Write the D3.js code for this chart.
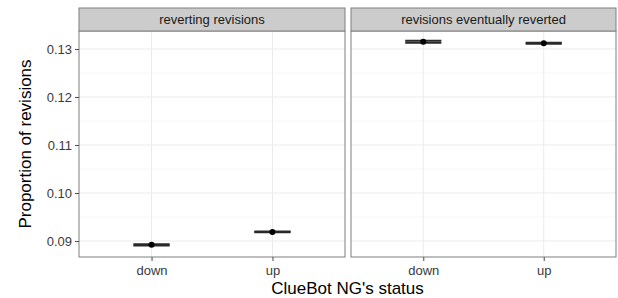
<!DOCTYPE html>
<html lang="en">
<head>
<meta charset="UTF-8">
<title>ClueBot NG status</title>
<script src="https://d3js.org/d3.v7.min.js"></script>
<style>
    body { margin: 0; background: #fff; }
    svg { display: block; font-family: 'Liberation Sans', Arial, sans-serif; }
    .tick text { fill: #3a3a3a; font-size: 13px; }
    .tick line { stroke: #4d4d4d; }
    .domain { display: none; }
</style>
</head>
<body>
<svg id="chart" width="618" height="298"></svg>
<script>
    // data
    var panels = ["reverting revisions", "revisions eventually reverted"];
    var statuses = ["down", "up"];
    var means = [[0.0892, 0.0919], [0.13152, 0.13118]];
    var lows = [[0.08907, 0.09183], [0.1313, 0.13107]];
    var highs = [[0.08933, 0.09196], [0.13172, 0.1313]];
    var yTicks = [0.09, 0.10, 0.11, 0.12, 0.13];
    var yMinor = [0.095, 0.105, 0.115, 0.125];

    var svg = d3.select("#chart");
    var plotTop = 31, plotBottom = 257, stripH = 23;
    var panelX = [[79, 345], [351, 616]];

    var y = d3.scaleLinear().domain([0.08667, 0.13375]).range([plotBottom, plotTop]);

    panels.forEach(function (name, i) {
        var x0 = panelX[i][0], x1 = panelX[i][1];
        // discrete scale with ggplot style expansion
        var x = d3.scaleLinear().domain([0.4, 2.6]).range([x0, x1]);
        var g = svg.append("g");

        g.append("rect").attr("x", x0).attr("y", plotTop).attr("width", x1 - x0).attr("height", plotBottom - plotTop)
            .attr("fill", "#fff");

        g.selectAll(".minor").data(yMinor).enter().append("line")
            .attr("x1", x0).attr("x2", x1)
            .attr("y1", d => y(d)).attr("y2", d => y(d))
            .attr("stroke", "#f7f7f7").attr("stroke-width", 1);
        g.selectAll(".major").data(yTicks).enter().append("line")
            .attr("x1", x0).attr("x2", x1)
            .attr("y1", d => y(d)).attr("y2", d => y(d))
            .attr("stroke", "#ebebeb").attr("stroke-width", 1);
        g.selectAll(".vmajor").data(statuses).enter().append("line")
            .attr("x1", (d, j) => x(j + 1)).attr("x2", (d, j) => x(j + 1))
            .attr("y1", plotTop).attr("y2", plotBottom)
            .attr("stroke", "#ebebeb").attr("stroke-width", 1);

        // error bars
        statuses.forEach(function (s, j) {
            var cx = x(j + 1), hw = (x(1.15) - x(1));
            [lows[i][j], highs[i][j]].forEach(function (v) {
                g.append("line").attr("x1", cx - hw).attr("x2", cx + hw)
                    .attr("y1", y(v)).attr("y2", y(v))
                    .attr("stroke", "#2a2a2a").attr("stroke-width", 2);
            });
            g.append("line").attr("x1", cx).attr("x2", cx)
                .attr("y1", y(lows[i][j])).attr("y2", y(highs[i][j]))
                .attr("stroke", "#2a2a2a").attr("stroke-width", 2);
            g.append("circle").attr("cx", cx).attr("cy", y(means[i][j])).attr("r", 3)
                .attr("fill", "#000");
        });

        g.append("rect").attr("x", x0).attr("y", plotTop).attr("width", x1 - x0).attr("height", plotBottom - plotTop)
            .attr("fill", "none").attr("stroke", "#7f7f7f").attr("stroke-width", 1);

        // strip
        g.append("rect").attr("x", x0).attr("y", plotTop - stripH).attr("width", x1 - x0).attr("height", stripH)
            .attr("fill", "#cccccc").attr("stroke", "#7f7f7f").attr("stroke-width", 1);
        g.append("text").attr("x", (x0 + x1) / 2).attr("y", plotTop - 7)
            .attr("text-anchor", "middle").attr("font-size", 13).attr("fill", "#1a1a1a")
            .text(name);

        // x axis
        var xb = d3.scalePoint().domain(statuses).range([x(1), x(2)]);
        svg.append("g").attr("transform", "translate(0," + plotBottom + ")")
            .call(d3.axisBottom(xb).tickSize(4).tickPadding(5));
    });

    svg.append("g").attr("transform", "translate(" + panelX[0][0] + ",0)")
        .call(d3.axisLeft(y).tickValues(yTicks).tickFormat(d3.format(".2f")).tickSize(4).tickPadding(3));

    svg.append("text")
        .attr("transform", "translate(31," + ((plotTop + plotBottom) / 2) + ") rotate(-90)")
        .attr("text-anchor", "middle").attr("font-size", 17).attr("fill", "#000")
        .text("Proportion of revisions");

    svg.append("text").attr("x", (panelX[0][0] + panelX[1][1]) / 2).attr("y", 294)
        .attr("text-anchor", "middle").attr("font-size", 17).attr("fill", "#000")
        .text("ClueBot NG's status");
</script>
</body>
</html>
